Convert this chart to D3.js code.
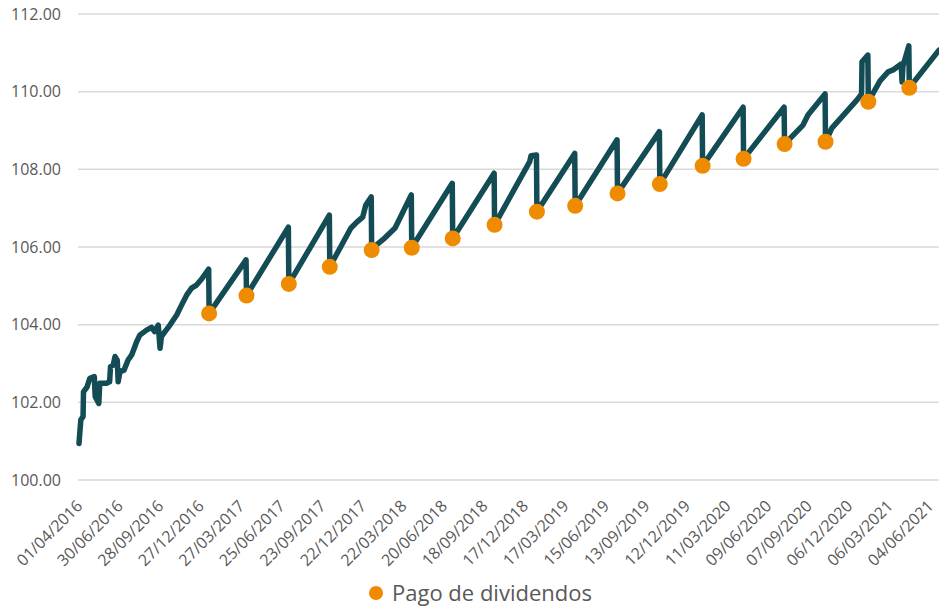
<!DOCTYPE html>
<html>
<head>
<meta charset="utf-8">
<script src="https://cdn.jsdelivr.net/npm/d3@7"></script>
<style>
  body { margin: 0; background: #fff; }
  svg { display: block; font-family: "Open Sans", sans-serif; }
</style>
</head>
<body>
<svg id="canvas" width="939" height="608"></svg>
<script>
// valor cuota
const priceDates = [
  '2016-04-01','2016-04-05','2016-04-10','2016-04-11','2016-04-19','2016-04-25','2016-05-05','2016-05-07',
  '2016-05-15','2016-05-17','2016-06-01','2016-06-08','2016-06-10','2016-06-16','2016-06-20','2016-06-25',
  '2016-06-27','2016-07-01','2016-07-10','2016-07-19','2016-07-27','2016-08-07','2016-08-14','2016-08-29',
  '2016-09-09','2016-09-16','2016-09-24','2016-09-28','2016-10-01','2016-10-09','2016-10-20','2016-11-04',
  '2016-11-15','2016-11-26','2016-12-07','2016-12-18','2016-12-29','2017-01-14','2017-01-15',
  '2017-04-07','2017-04-08','2017-07-10','2017-07-11','2017-10-09','2017-10-10',
  '2017-11-26','2017-12-09','2017-12-22','2017-12-29','2018-01-10','2018-01-11',
  '2018-01-19','2018-02-09','2018-03-04','2018-04-09','2018-04-10',
  '2018-07-09','2018-07-10','2018-10-10','2018-10-11',
  '2018-12-28','2018-12-31','2019-01-12','2019-01-13',
  '2019-04-07','2019-04-08','2019-07-10','2019-07-11','2019-10-12','2019-10-13',
  '2020-01-15','2020-01-16','2020-04-15','2020-04-16','2020-07-15','2020-07-16',
  '2020-08-26','2020-09-06','2020-10-14','2020-10-15',
  '2020-10-29','2020-12-24','2021-01-03','2021-01-04','2021-01-17','2021-01-18',
  '2021-02-13','2021-03-03','2021-03-14','2021-04-01','2021-04-03','2021-04-05','2021-04-18','2021-04-19',
  '2021-06-24'
];
const priceValues = [
  100.94,101.55,101.63,102.27,102.40,102.62,102.66,102.15,
  101.97,102.49,102.49,102.53,102.92,102.96,103.18,103.08,
  102.53,102.79,102.83,103.09,103.22,103.56,103.73,103.86,
  103.93,103.82,103.99,103.39,103.69,103.82,103.99,104.25,
  104.51,104.76,104.94,105.02,105.17,105.43,104.29,
  105.67,104.75,106.51,105.05,106.82,105.49,
  106.49,106.64,106.77,107.08,107.29,105.92,
  106.03,106.23,106.49,107.34,105.98,
  107.64,106.22,107.90,106.57,
  108.20,108.35,108.37,106.91,
  108.41,107.06,108.76,107.38,108.97,107.62,
  109.40,108.09,109.60,108.27,109.60,108.65,
  109.14,109.40,109.94,108.71,
  109.06,109.79,109.94,110.77,110.94,109.74,
  110.28,110.51,110.56,110.71,110.25,110.66,111.18,110.10,
  111.07
];

// pago de dividendos
const dividendDates = [
  '2017-01-15','2017-04-08','2017-07-11','2017-10-10','2018-01-11','2018-04-10',
  '2018-07-10','2018-10-11','2019-01-13','2019-04-08','2019-07-11','2019-10-13',
  '2020-01-16','2020-04-16','2020-07-16','2020-10-15','2021-01-18','2021-04-19'
];
const dividendValues = [
  104.29,104.75,105.05,105.49,105.92,105.98,
  106.22,106.57,106.91,107.06,107.38,107.62,
  108.09,108.27,108.65,108.71,109.74,110.10
];

const yTicks = [100, 102, 104, 106, 108, 110, 112];
const xTickLabels = [
  '01/04/2016','30/06/2016','28/09/2016','27/12/2016','27/03/2017','25/06/2017',
  '23/09/2017','22/12/2017','22/03/2018','20/06/2018','18/09/2018','17/12/2018',
  '17/03/2019','15/06/2019','13/09/2019','12/12/2019','11/03/2020','09/06/2020',
  '07/09/2020','06/12/2020','06/03/2021','04/06/2021'
];

const parseIso = d3.timeParse('%Y-%m-%d');
const parseLabel = d3.timeParse('%d/%m/%Y');
const fmtLabel = d3.timeFormat('%d/%m/%Y');

const svg = d3.select('#canvas');

let x = d3.scaleTime()
  .domain([parseIso('2016-04-01'), parseIso('2021-06-24')])
  .range([79, 939]);
let y = d3.scaleLinear()
  .domain([100, 112])
  .range([480, 14]);

// gridlines + y labels
let yAxis = d3.axisLeft(y)
  .tickValues(yTicks)
  .tickSize(0)
  .tickPadding(0)
  .tickFormat(d3.format('.2f'));
let gy = svg.append('g')
  .attr('transform', 'translate(61,0)')
  .call(yAxis);
gy.select('.domain').remove();
gy.selectAll('text')
  .attr('font-size', 16)
  .attr('fill', '#595959')
  .attr('font-family', '"Open Sans", sans-serif');

svg.append('g')
  .selectAll('line')
  .data(yTicks)
  .enter().append('line')
  .attr('x1', 78)
  .attr('x2', 939)
  .attr('y1', d => y(d))
  .attr('y2', d => y(d))
  .attr('stroke', '#d9d9d9')
  .attr('stroke-width', 1.5);

// x labels
let xAxis = d3.axisBottom(x)
  .tickValues(xTickLabels.map(parseLabel))
  .tickSize(0)
  .tickPadding(0)
  .tickFormat(fmtLabel);
let gx = svg.append('g')
  .attr('transform', 'translate(0,496)')
  .call(xAxis);
gx.select('.domain').remove();
gx.selectAll('text')
  .attr('font-size', 16)
  .attr('fill', '#595959')
  .attr('font-family', '"Open Sans", sans-serif')
  .attr('text-anchor', 'end')
  .attr('dy', '0.35em')
  .attr('transform', 'translate(0,7) rotate(-45)');

// line
let points = priceDates.map((d, i) => [parseIso(d), priceValues[i]]);
let line = d3.line()
  .x(d => x(d[0]))
  .y(d => y(d[1]));
svg.append('path')
  .datum(points)
  .attr('d', line)
  .attr('fill', 'none')
  .attr('stroke', '#134c55')
  .attr('stroke-width', 5.5)
  .attr('stroke-linejoin', 'round')
  .attr('stroke-linecap', 'round');

// dividend dots
svg.append('g')
  .selectAll('circle')
  .data(dividendDates)
  .enter().append('circle')
  .attr('cx', d => x(parseIso(d)))
  .attr('cy', (d, i) => y(dividendValues[i]))
  .attr('r', 8)
  .attr('fill', '#ee8b00');

// legend
let legend = svg.append('g');
legend.append('circle')
  .attr('cx', 376)
  .attr('cy', 593)
  .attr('r', 7)
  .attr('fill', '#ee8b00');
legend.append('text')
  .attr('x', 392)
  .attr('y', 593)
  .attr('dy', '0.35em')
  .attr('font-size', 22)
  .attr('fill', '#595959')
  .text('Pago de dividendos');
</script>
</body>
</html>
